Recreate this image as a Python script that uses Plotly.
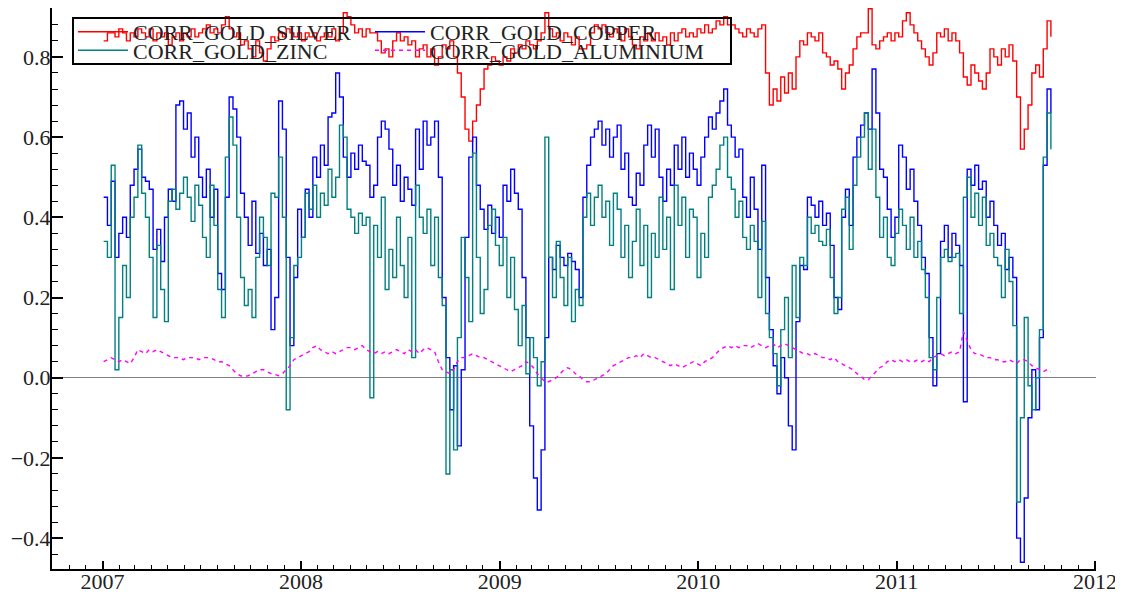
import pandas as pd
import plotly.graph_objects as go

# weekly observations, Jan 2007 .. Oct 2011
dates = pd.date_range("2007-01-03", periods=250, freq="7D")

corr_silver = [
    0.84, 0.86, 0.86, 0.85, 0.87, 0.86, 0.84, 0.86, 0.85, 0.87,
    0.86, 0.85, 0.87, 0.84, 0.86, 0.85, 0.86, 0.83, 0.85, 0.86,
    0.84, 0.86, 0.85, 0.87, 0.85, 0.86, 0.87, 0.88, 0.86, 0.87,
    0.86, 0.88, 0.90, 0.87, 0.85, 0.86, 0.83, 0.84, 0.82, 0.80,
    0.84, 0.81, 0.79, 0.82, 0.85, 0.84, 0.86, 0.85, 0.87, 0.86,
    0.85, 0.86, 0.84, 0.86, 0.85, 0.86, 0.84, 0.85, 0.86, 0.85,
    0.87, 0.84, 0.86, 0.91, 0.90, 0.88, 0.86, 0.87, 0.85, 0.87,
    0.86, 0.86, 0.84, 0.81, 0.82, 0.80, 0.84, 0.86, 0.84, 0.85,
    0.83, 0.84, 0.80, 0.82, 0.83, 0.80, 0.82, 0.78, 0.80, 0.83,
    0.82, 0.84, 0.80, 0.76, 0.70, 0.62, 0.59, 0.64, 0.68, 0.72,
    0.77, 0.78, 0.80, 0.79, 0.78, 0.80, 0.79, 0.82, 0.81, 0.83,
    0.82, 0.84, 0.83, 0.82, 0.84, 0.86, 0.91, 0.87, 0.85, 0.86,
    0.84, 0.86, 0.85, 0.83, 0.85, 0.82, 0.82, 0.83, 0.86, 0.88,
    0.87, 0.88, 0.86, 0.85, 0.87, 0.86, 0.84, 0.87, 0.85, 0.83,
    0.82, 0.85, 0.84, 0.86, 0.84, 0.86, 0.84, 0.85, 0.83, 0.86,
    0.84, 0.86, 0.87, 0.85, 0.86, 0.85, 0.87, 0.86, 0.88, 0.86,
    0.87, 0.89, 0.88, 0.90, 0.88, 0.88, 0.87, 0.86, 0.85, 0.87,
    0.86, 0.85, 0.87, 0.88, 0.76, 0.68, 0.72, 0.69, 0.75, 0.71,
    0.76, 0.72, 0.80, 0.84, 0.83, 0.86, 0.85, 0.84, 0.86, 0.81,
    0.80, 0.78, 0.79, 0.77, 0.72, 0.76, 0.78, 0.82, 0.85, 0.86,
    0.86, 0.92, 0.83, 0.82, 0.84, 0.85, 0.86, 0.84, 0.86, 0.85,
    0.89, 0.91, 0.88, 0.86, 0.84, 0.82, 0.80, 0.78, 0.81, 0.86,
    0.85, 0.87, 0.84, 0.86, 0.84, 0.81, 0.75, 0.73, 0.78, 0.76,
    0.74, 0.72, 0.76, 0.82, 0.80, 0.78, 0.82, 0.80, 0.83, 0.79,
    0.70, 0.57, 0.62, 0.68, 0.76, 0.78, 0.75, 0.82, 0.89, 0.85,
]

corr_copper = [
    0.45, 0.38, 0.49, 0.30, 0.36, 0.40, 0.35, 0.48, 0.52, 0.57,
    0.50, 0.49, 0.47, 0.32, 0.37, 0.29, 0.40, 0.47, 0.44, 0.68,
    0.69, 0.62, 0.66, 0.55, 0.60, 0.50, 0.45, 0.52, 0.40, 0.47,
    0.26, 0.22, 0.45, 0.70, 0.67, 0.60, 0.46, 0.40, 0.33, 0.44,
    0.31, 0.36, 0.28, 0.32, 0.12, 0.20, 0.69, 0.62, 0.30, 0.08,
    0.25, 0.42, 0.35, 0.47, 0.40, 0.55, 0.50, 0.58, 0.53, 0.65,
    0.66, 0.76, 0.70, 0.55, 0.50, 0.56, 0.52, 0.58, 0.54, 0.53,
    0.45, 0.48, 0.60, 0.64, 0.62, 0.57, 0.48, 0.53, 0.44, 0.50,
    0.47, 0.43, 0.62, 0.52, 0.64, 0.58, 0.60, 0.64, 0.50, 0.20,
    0.05, -0.08, 0.03, -0.17, 0.02, 0.35, 0.55, 0.60, 0.48, 0.42,
    0.37, 0.43, 0.36, 0.40, 0.35, 0.48, 0.44, 0.52, 0.46, 0.42,
    0.25, 0.10, -0.12, -0.25, -0.33, -0.18, 0.10, 0.30, 0.27, 0.33,
    0.30, 0.28, 0.31, 0.29, 0.27, 0.20, 0.45, 0.53, 0.60, 0.62,
    0.64, 0.58, 0.62, 0.55, 0.60, 0.63, 0.52, 0.56, 0.45, 0.43,
    0.51, 0.48, 0.58, 0.63, 0.55, 0.62, 0.50, 0.44, 0.52, 0.48,
    0.58, 0.52, 0.60, 0.50, 0.56, 0.52, 0.48, 0.55, 0.60, 0.65,
    0.62, 0.66, 0.69, 0.72, 0.63, 0.60, 0.55, 0.57, 0.45, 0.40,
    0.50, 0.42, 0.32, 0.53, 0.25, 0.12, 0.03, -0.04, 0.05, 0.00,
    -0.12, -0.18, 0.14, 0.28, 0.27, 0.45, 0.43, 0.40, 0.44, 0.38,
    0.41, 0.33, 0.20, 0.17, 0.40, 0.47, 0.38, 0.55, 0.60, 0.63,
    0.66, 0.62, 0.77, 0.66, 0.52, 0.50, 0.42, 0.35, 0.40, 0.58,
    0.55, 0.47, 0.52, 0.44, 0.38, 0.30, 0.26, 0.10, -0.02, 0.06,
    0.34, 0.38, 0.30, 0.36, 0.33, 0.28, -0.06, 0.52, 0.48, 0.53,
    0.47, 0.49, 0.40, 0.44, 0.38, 0.33, 0.36, 0.27, 0.30, 0.25,
    -0.40, -0.46, -0.30, -0.10, 0.02, -0.08, 0.10, 0.53, 0.72, 0.66,
]

corr_zinc = [
    0.34, 0.30, 0.53, 0.02, 0.15, 0.28, 0.20, 0.40, 0.45, 0.58,
    0.46, 0.40, 0.30, 0.15, 0.33, 0.22, 0.14, 0.44, 0.47, 0.42,
    0.46, 0.50, 0.45, 0.39, 0.48, 0.43, 0.35, 0.30, 0.48, 0.38,
    0.22, 0.15, 0.55, 0.65, 0.58, 0.40, 0.25, 0.18, 0.22, 0.15,
    0.30, 0.40, 0.35, 0.28, 0.46, 0.45, 0.55, 0.40, -0.08, 0.10,
    0.28, 0.30, 0.35, 0.46, 0.42, 0.48, 0.40, 0.46, 0.43, 0.52,
    0.45, 0.50, 0.63, 0.60, 0.42, 0.40, 0.36, 0.41, 0.38, 0.40,
    -0.05, 0.38, 0.30, 0.45, 0.22, 0.32, 0.25, 0.40, 0.28, 0.20,
    0.35, 0.05, 0.48, 0.40, 0.36, 0.42, 0.28, 0.40, 0.25, 0.18,
    -0.24, 0.02, -0.18, 0.10, 0.35, 0.25, 0.14, 0.56, 0.30, 0.16,
    0.22, 0.38, 0.42, 0.33, 0.28, 0.35, 0.20, 0.30, 0.17, 0.08,
    0.18, 0.01, 0.10, 0.05, -0.02, 0.04, 0.60, 0.30, 0.20, 0.34,
    0.25, 0.18, 0.30, 0.14, 0.22, 0.18, 0.40, 0.46, 0.38, 0.45,
    0.48, 0.40, 0.44, 0.33, 0.46, 0.42, 0.30, 0.38, 0.25, 0.34,
    0.42, 0.28, 0.38, 0.20, 0.36, 0.30, 0.45, 0.32, 0.40, 0.22,
    0.48, 0.38, 0.45, 0.30, 0.42, 0.40, 0.25, 0.36, 0.30, 0.45,
    0.48, 0.52, 0.58, 0.60, 0.50, 0.47, 0.40, 0.44, 0.35, 0.32,
    0.38, 0.34, 0.20, 0.39, 0.16, 0.10, 0.06, -0.02, 0.12, 0.20,
    0.05, 0.28, 0.15, 0.30, 0.28, 0.40, 0.36, 0.38, 0.34, 0.33,
    0.37, 0.25, 0.16, 0.20, 0.42, 0.45, 0.32, 0.48, 0.55, 0.60,
    0.66, 0.52, 0.62, 0.45, 0.35, 0.40, 0.30, 0.28, 0.36, 0.42,
    0.38, 0.32, 0.40, 0.30, 0.34, 0.27, 0.20, 0.05, 0.02, 0.20,
    0.30, 0.32, 0.29, 0.30, 0.31, 0.16, 0.45, 0.50, 0.40, 0.46,
    0.38, 0.45, 0.33, 0.36, 0.30, 0.28, 0.20, 0.32, 0.24, 0.13,
    -0.31, -0.10, 0.15, -0.02, -0.08, 0.00, 0.12, 0.55, 0.66, 0.57,
]

corr_aluminium = [
    0.040, 0.045, 0.050, 0.045, 0.040, 0.045, 0.040, 0.035, 0.050, 0.070,
    0.065, 0.060, 0.070, 0.065, 0.070, 0.065, 0.060, 0.055, 0.050, 0.050,
    0.050, 0.045, 0.050, 0.050, 0.050, 0.045, 0.050, 0.050, 0.050, 0.045,
    0.040, 0.040, 0.035, 0.030, 0.020, 0.010, 0.005, 0.003, 0.005, 0.010,
    0.015, 0.020, 0.020, 0.015, 0.010, 0.008, 0.005, 0.010, 0.020, 0.030,
    0.045, 0.050, 0.055, 0.060, 0.065, 0.075, 0.080, 0.070, 0.065, 0.060,
    0.065, 0.060, 0.065, 0.070, 0.075, 0.075, 0.070, 0.075, 0.080, 0.070,
    0.065, 0.060, 0.065, 0.060, 0.065, 0.060, 0.065, 0.070, 0.065, 0.060,
    0.070, 0.065, 0.070, 0.060, 0.070, 0.075, 0.070, 0.065, 0.040, 0.020,
    0.015, 0.010, 0.020, 0.040, 0.050, 0.050, 0.055, 0.060, 0.055, 0.050,
    0.050, 0.045, 0.040, 0.035, 0.030, 0.025, 0.020, 0.015, 0.020, 0.025,
    0.030, 0.040, 0.035, 0.025, 0.010, 0.000, -0.010, -0.010, -0.005, 0.000,
    0.010, 0.020, 0.025, 0.020, 0.010, 0.005, -0.005, -0.010, -0.010, -0.005,
    0.000, 0.005, 0.010, 0.020, 0.030, 0.035, 0.040, 0.045, 0.050, 0.050,
    0.055, 0.050, 0.060, 0.055, 0.050, 0.050, 0.045, 0.040, 0.035, 0.030,
    0.035, 0.030, 0.025, 0.030, 0.035, 0.040, 0.035, 0.030, 0.040, 0.045,
    0.050, 0.060, 0.070, 0.075, 0.080, 0.075, 0.080, 0.075, 0.080, 0.080,
    0.075, 0.080, 0.085, 0.080, 0.075, 0.080, 0.085, 0.075, 0.080, 0.085,
    0.080, 0.075, 0.070, 0.065, 0.060, 0.060, 0.055, 0.060, 0.055, 0.050,
    0.050, 0.045, 0.050, 0.040, 0.035, 0.030, 0.025, 0.020, 0.010, 0.005,
    -0.005, -0.005, 0.005, 0.015, 0.025, 0.030, 0.040, 0.045, 0.040, 0.045,
    0.040, 0.045, 0.040, 0.040, 0.045, 0.040, 0.045, 0.040, 0.050, 0.055,
    0.060, 0.055, 0.060, 0.065, 0.060, 0.065, 0.115, 0.090, 0.070, 0.060,
    0.060, 0.055, 0.050, 0.050, 0.045, 0.045, 0.040, 0.040, 0.045, 0.040,
    0.035, 0.045, 0.045, 0.040, 0.030, 0.025, 0.020, 0.015, 0.020, 0.015,
]

serif = "Liberation Serif, Times New Roman, serif"

fig = go.Figure()
fig.add_trace(go.Scatter(x=dates, y=corr_silver, name="CORR_GOLD_SILVER", mode="lines",
                         line=dict(color="#ff0000", width=1.4, shape="hv"), legend="legend"))
fig.add_trace(go.Scatter(x=dates, y=corr_copper, name="CORR_GOLD_COPPER", mode="lines",
                         line=dict(color="#0000ff", width=1.4, shape="hv"), legend="legend2"))
fig.add_trace(go.Scatter(x=dates, y=corr_zinc, name="CORR_GOLD_ZINC", mode="lines",
                         line=dict(color="#008080", width=1.4, shape="hv"), legend="legend3"))
fig.add_trace(go.Scatter(x=dates, y=corr_aluminium, name="CORR_GOLD_ALUMINIUM", mode="lines",
                         line=dict(color="#ff00ff", width=1.4, dash="4px,4px"), legend="legend4"))

# page body has an 8px margin, so the plot area sits at page x 52..1096, y 8..569
PW, PH = 1044, 561
col1, col2 = 21 / PW, (21 + 297) / PW
row1, row2 = (561 - 24) / PH, (561 - 42.5) / PH

legend_style = dict(
    orientation="h", xanchor="left", yanchor="middle",
    bgcolor="rgba(0,0,0,0)", borderwidth=0,
    font=dict(family=serif, size=22, color="#222"),
    itemwidth=50,
)

fig.update_layout(
    width=1123, height=595,
    margin=dict(l=44, r=35, t=0, b=34),
    paper_bgcolor="white", plot_bgcolor="white",
    font=dict(family=serif, size=22, color="#222"),
    showlegend=True,
    legend=dict(x=col1, y=row1, **legend_style),
    legend2=dict(x=col2, y=row1, **legend_style),
    legend3=dict(x=col1, y=row2, **legend_style),
    legend4=dict(x=col2, y=row2, **legend_style),
    shapes=[dict(type="rect", xref="paper", yref="paper",
                 x0=21 / PW, x1=679 / PW,
                 y0=(561 - 56) / PH, y1=(561 - 10) / PH,
                 line=dict(color="black", width=2))],
)

fig.update_xaxes(
    type="date", range=["2006-09-30", "2012-01-03"], automargin=False,
    showgrid=False, zeroline=False,
    showline=True, linecolor="black", linewidth=2,
    ticks="inside", ticklen=8, tickwidth=1.5, tickcolor="black",
    dtick="M12", tick0="2007-01-01", tickformat="%Y",
    ticklabelstandoff=-8,
    minor=dict(ticks="inside", ticklen=4, dtick="M1", tickcolor="black", tickwidth=1.2),
    tickfont=dict(family=serif, size=22, color="#222"),
)
fig.update_yaxes(
    range=[-0.477, 0.922], automargin=False,
    showgrid=False,
    zeroline=True, zerolinecolor="#808080", zerolinewidth=1,
    showline=True, linecolor="black", linewidth=2,
    ticks="inside", ticklen=11, tickwidth=1.5, tickcolor="black",
    dtick=0.2, tick0=0, tickformat=".1f",
    ticklabelstandoff=-5,
    minor=dict(ticks="inside", ticklen=6, dtick=0.04, tickcolor="black", tickwidth=1.2),
    tickfont=dict(family=serif, size=22, color="#222"),
)

fig.write_html("out.html")
